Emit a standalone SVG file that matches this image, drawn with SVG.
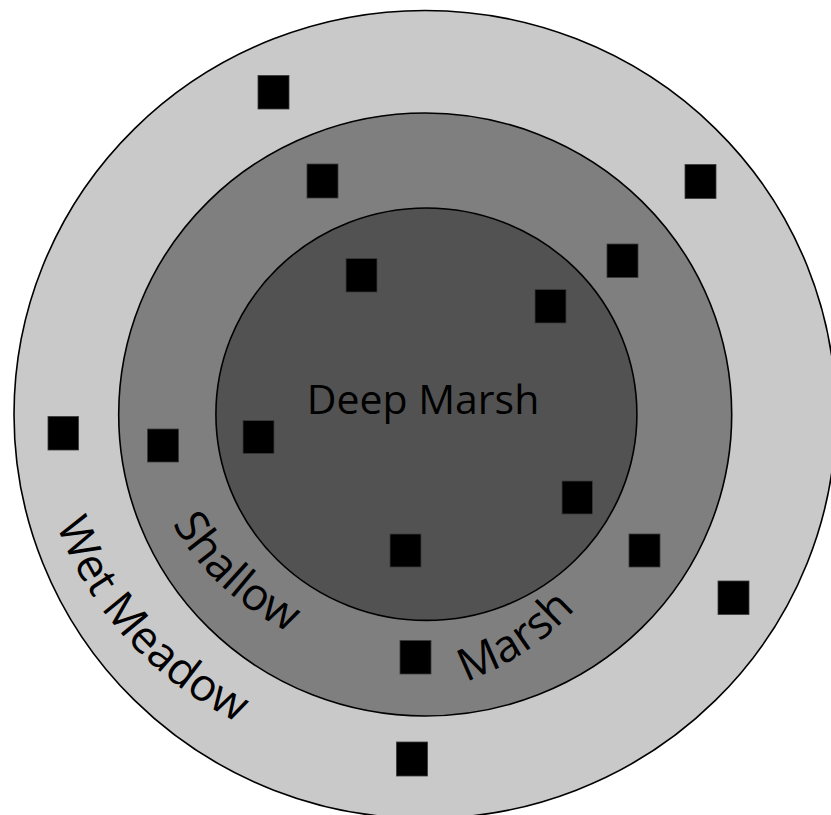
<svg xmlns="http://www.w3.org/2000/svg" width="831" height="815" viewBox="0 0 831 815">
  <style>
    .zone { stroke: #000; stroke-width: 1.6; }
    .site { fill: #000; stroke: #3a3a3a; stroke-width: 0.8; }
    .label { font-family: "Open Sans", "Noto Sans", "Liberation Sans", sans-serif; font-size: 41px; fill: #000; }
    .arc-label { font-size: 45px; }
  </style>
  <defs>
    <!-- baselines for the curved zone labels (run left to right under the centre) -->
    <path id="arc-wet" d="M 37 414.5 A 388 352 0 0 0 813 414.5"/>
    <path id="arc-shallow" d="M 144 414.5 A 281.5 249 0 0 0 707 414.5"/>
    <path id="arc-marsh" d="M 103 425 A 272 272 0 0 0 647 425"/>
  </defs>

  <g id="wet-meadow">
    <ellipse class="zone" cx="425" cy="414.5" rx="411" ry="404" fill="#c9c9c9"/>
  </g>
  <g id="shallow-marsh">
    <ellipse class="zone" cx="425.2" cy="414.5" rx="306.5" ry="301.5" fill="#7f7f7f"/>
  </g>
  <g id="deep-marsh">
    <ellipse class="zone" cx="426.4" cy="414.2" rx="210.5" ry="206.2" fill="#525252"/>
    <text class="label" x="423" y="414" text-anchor="middle">Deep Marsh</text>
  </g>

  <g id="zone-labels">
    <text class="label arc-label"><textPath href="#arc-wet" startOffset="21.5%" text-anchor="middle">Wet Meadow</textPath></text>
    <text class="label arc-label"><textPath href="#arc-shallow" startOffset="23.4%" text-anchor="middle">Shallow</textPath></text>
    <text class="label arc-label"><textPath href="#arc-marsh" startOffset="68.6%" text-anchor="middle">Marsh</textPath></text>
  </g>

  <g id="sites">
    <rect class="site" x="258" y="75.5" width="31" height="33.5"/>
    <rect class="site" x="307" y="164" width="31" height="34"/>
    <rect class="site" x="685" y="164.5" width="31" height="34"/>
    <rect class="site" x="607" y="244" width="31" height="33.5"/>
    <rect class="site" x="346" y="258.5" width="31" height="33.5"/>
    <rect class="site" x="535" y="289.5" width="31" height="33.5"/>
    <rect class="site" x="48" y="416.5" width="30.5" height="33.5"/>
    <rect class="site" x="147.5" y="429" width="31" height="33"/>
    <rect class="site" x="243" y="420.5" width="31" height="33"/>
    <rect class="site" x="562" y="481" width="30.5" height="33"/>
    <rect class="site" x="390" y="534" width="31" height="33"/>
    <rect class="site" x="629" y="534" width="31" height="33"/>
    <rect class="site" x="718" y="581" width="31" height="33.5"/>
    <rect class="site" x="400" y="640.5" width="31" height="33.5"/>
    <rect class="site" x="396.5" y="742" width="31" height="34"/>
  </g>
</svg>
